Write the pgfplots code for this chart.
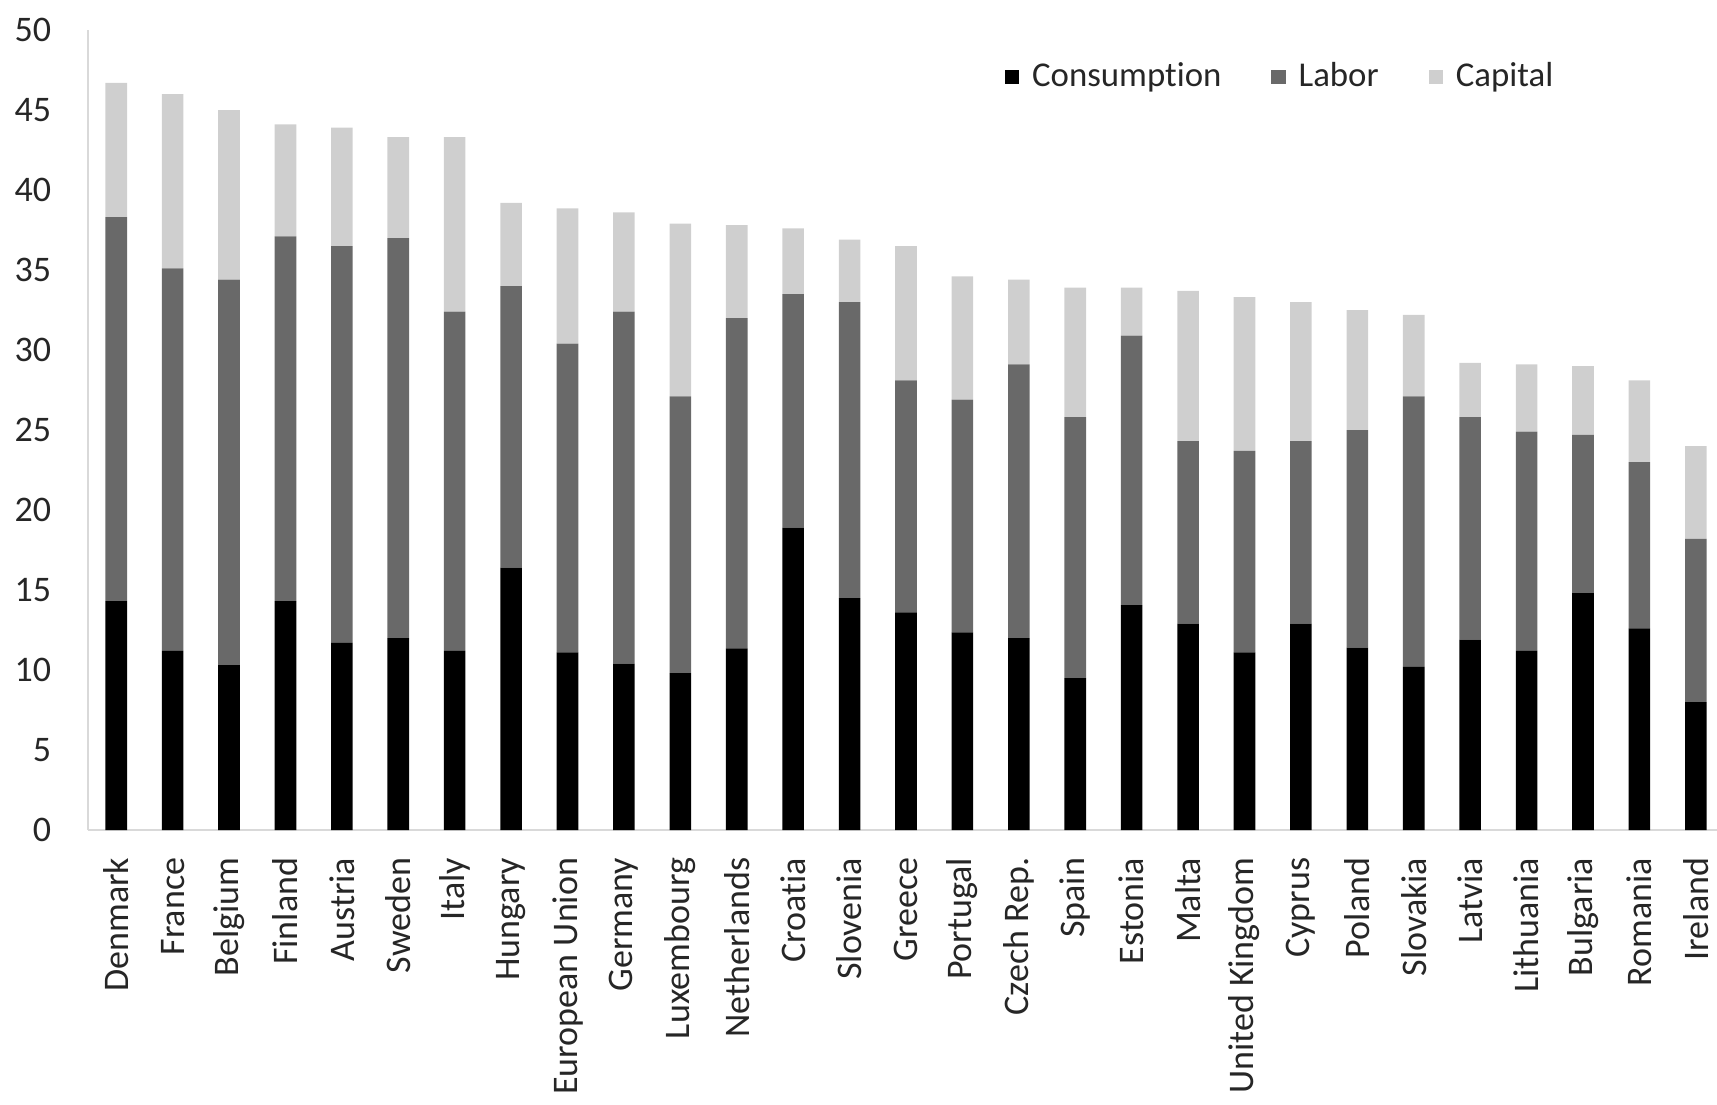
\documentclass[border=0pt]{standalone}
\usepackage{pgfplots}
\usepackage{pgfplotstable}
\pgfplotsset{compat=1.18}
\usepackage{fontspec}
\setmainfont{Carlito}[Ligatures=CommonOff]
\definecolor{cons}{RGB}{0,0,0}
\definecolor{labor}{RGB}{105,105,105}
\definecolor{capital}{RGB}{207,207,207}
\definecolor{axisgray}{RGB}{217,217,217}
\definecolor{txt}{RGB}{38,38,38}

\pgfplotstableread{
x cons labor cap
0 14.3 24.0 8.4
1 11.2 23.9 10.9
2 10.3 24.1 10.6
3 14.3 22.8 7.0
4 11.7 24.8 7.4
5 12.0 25.0 6.3
6 11.2 21.2 10.9
7 16.4 17.6 5.2
8 11.1 19.3 8.45
9 10.4 22.0 6.2
10 9.8 17.3 10.8
11 11.35 20.65 5.8
12 18.9 14.6 4.1
13 14.5 18.5 3.9
14 13.6 14.5 8.4
15 12.35 14.55 7.7
16 12.0 17.1 5.3
17 9.5 16.3 8.1
18 14.05 16.85 3.0
19 12.9 11.4 9.4
20 11.1 12.6 9.6
21 12.9 11.4 8.7
22 11.4 13.6 7.5
23 10.2 16.9 5.1
24 11.9 13.9 3.4
25 11.2 13.7 4.2
26 14.8 9.9 4.3
27 12.6 10.4 5.1
28 8.0 10.2 5.8
}\datatable

\begin{document}
\begin{tikzpicture}
\begin{axis}[
  scale only axis, width=409pt, height=200pt,
  ybar stacked, bar width=5.4pt,
  xmin=-0.5, xmax=28.5, ymin=0, ymax=50,
  xtick={0,...,28},
  xticklabels={Denmark, France, Belgium, Finland, Austria, Sweden, Italy, Hungary, European Union, Germany, Luxembourg, Netherlands, Croatia, Slovenia, Greece, Portugal, Czech Rep., Spain, Estonia, Malta, United Kingdom, Cyprus, Poland, Slovakia, Latvia, Lithuania, Bulgaria, Romania, Ireland},
  ytick={0,5,...,50},
  axis x line*=bottom, axis y line*=left,
  axis line style={axisgray, line width=0.6pt},
  major tick length=0pt,
  tick style={draw=none},
  /pgf/number format/assume math mode=true,
  tick label style={font=\fontsize{9}{11}\selectfont, text=txt},
  xticklabel style={rotate=90, anchor=east, inner sep=0pt},
  xticklabel shift=6.75pt,
  yticklabel style={anchor=east, inner sep=0pt},
  yticklabel shift=9pt,
  legend columns=3,
  legend style={draw=none, fill=none, at={(0.56,0.941)}, anchor=west, inner sep=0pt,
    font=\fontsize{8.7}{10}\selectfont, text=txt,
    /tikz/every odd column/.append style={column sep=1.2pt},
    /tikz/every even column/.append style={column sep=10.5pt}},
  legend image code/.code={\fill[#1] (0pt,-1.8pt) rectangle (3.6pt,1.8pt);},
]
\addplot[fill=cons, draw=none] table[x=x, y=cons] {\datatable};
\addplot[fill=labor, draw=none] table[x=x, y=labor] {\datatable};
\addplot[fill=capital, draw=none] table[x=x, y=cap] {\datatable};
\legend{Consumption, Labor, Capital}
\end{axis}
\pgfresetboundingbox
\path[use as bounding box] ([xshift=-22pt,yshift=-68.5pt]current axis.south west) rectangle ([xshift=-1.75pt,yshift=7.5pt]current axis.north east);
\end{tikzpicture}
\end{document}
